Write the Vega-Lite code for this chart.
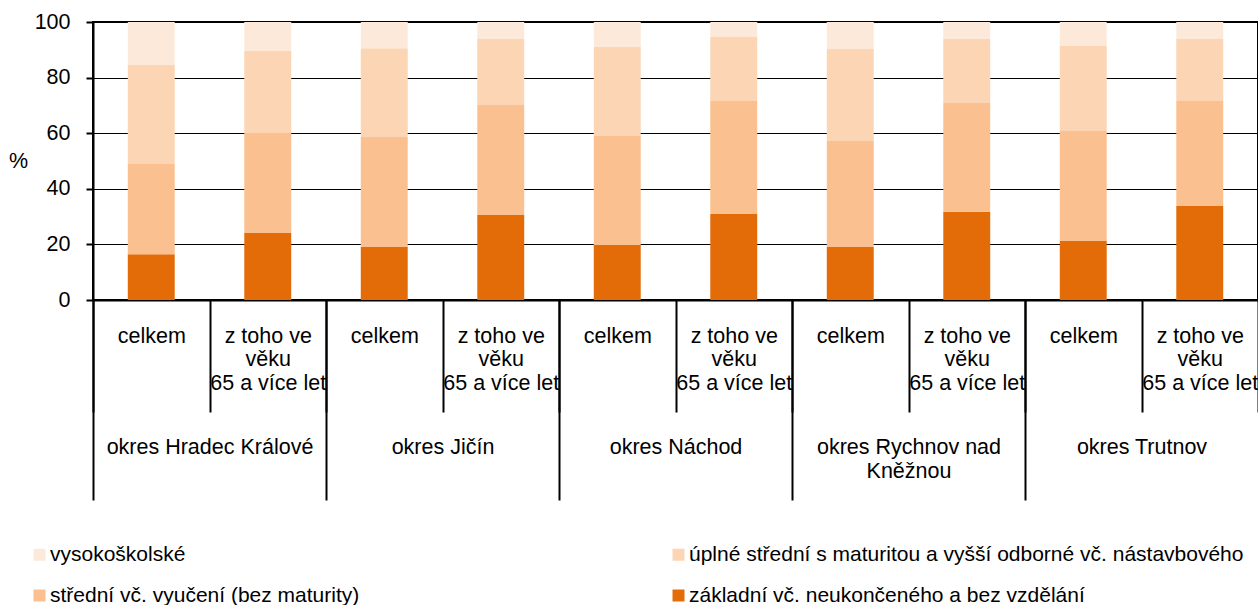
{
  "$schema": "https://vega.github.io/schema/vega-lite/v6.json",
  "width": 1165,
  "height": 278,
  "autosize": {"type": "none"},
  "padding": {"left": 93, "top": 22, "right": 0, "bottom": 305},
  "background": "#ffffff",
  "config": {
    "font": "Liberation Sans",
    "view": {"stroke": "#000000", "strokeWidth": 2}
  },
  "data": {
    "values": [
      {"okres": "okres Hradec Králové", "skupina": "celkem", "vzdelani": "základní vč. neukončeného a bez vzdělání", "podil": 16.5},
      {"okres": "okres Hradec Králové", "skupina": "celkem", "vzdelani": "střední vč. vyučení (bez maturity)", "podil": 32.4},
      {"okres": "okres Hradec Králové", "skupina": "celkem", "vzdelani": "úplné střední s maturitou a vyšší odborné vč. nástavbového", "podil": 35.6},
      {"okres": "okres Hradec Králové", "skupina": "celkem", "vzdelani": "vysokoškolské", "podil": 15.5},
      {"okres": "okres Hradec Králové", "skupina": "65+", "vzdelani": "základní vč. neukončeného a bez vzdělání", "podil": 24.1},
      {"okres": "okres Hradec Králové", "skupina": "65+", "vzdelani": "střední vč. vyučení (bez maturity)", "podil": 36.0},
      {"okres": "okres Hradec Králové", "skupina": "65+", "vzdelani": "úplné střední s maturitou a vyšší odborné vč. nástavbového", "podil": 29.5},
      {"okres": "okres Hradec Králové", "skupina": "65+", "vzdelani": "vysokoškolské", "podil": 10.4},
      {"okres": "okres Jičín", "skupina": "celkem", "vzdelani": "základní vč. neukončeného a bez vzdělání", "podil": 19.1},
      {"okres": "okres Jičín", "skupina": "celkem", "vzdelani": "střední vč. vyučení (bez maturity)", "podil": 39.5},
      {"okres": "okres Jičín", "skupina": "celkem", "vzdelani": "úplné střední s maturitou a vyšší odborné vč. nástavbového", "podil": 32.0},
      {"okres": "okres Jičín", "skupina": "celkem", "vzdelani": "vysokoškolské", "podil": 9.4},
      {"okres": "okres Jičín", "skupina": "65+", "vzdelani": "základní vč. neukončeného a bez vzdělání", "podil": 30.6},
      {"okres": "okres Jičín", "skupina": "65+", "vzdelani": "střední vč. vyučení (bez maturity)", "podil": 39.5},
      {"okres": "okres Jičín", "skupina": "65+", "vzdelani": "úplné střední s maturitou a vyšší odborné vč. nástavbového", "podil": 23.8},
      {"okres": "okres Jičín", "skupina": "65+", "vzdelani": "vysokoškolské", "podil": 6.1},
      {"okres": "okres Náchod", "skupina": "celkem", "vzdelani": "základní vč. neukončeného a bez vzdělání", "podil": 19.8},
      {"okres": "okres Náchod", "skupina": "celkem", "vzdelani": "střední vč. vyučení (bez maturity)", "podil": 39.2},
      {"okres": "okres Náchod", "skupina": "celkem", "vzdelani": "úplné střední s maturitou a vyšší odborné vč. nástavbového", "podil": 32.0},
      {"okres": "okres Náchod", "skupina": "celkem", "vzdelani": "vysokoškolské", "podil": 9.0},
      {"okres": "okres Náchod", "skupina": "65+", "vzdelani": "základní vč. neukončeného a bez vzdělání", "podil": 30.9},
      {"okres": "okres Náchod", "skupina": "65+", "vzdelani": "střední vč. vyučení (bez maturity)", "podil": 40.7},
      {"okres": "okres Náchod", "skupina": "65+", "vzdelani": "úplné střední s maturitou a vyšší odborné vč. nástavbového", "podil": 23.0},
      {"okres": "okres Náchod", "skupina": "65+", "vzdelani": "vysokoškolské", "podil": 5.4},
      {"okres": "okres Rychnov nad Kněžnou", "skupina": "celkem", "vzdelani": "základní vč. neukončeného a bez vzdělání", "podil": 19.1},
      {"okres": "okres Rychnov nad Kněžnou", "skupina": "celkem", "vzdelani": "střední vč. vyučení (bez maturity)", "podil": 38.1},
      {"okres": "okres Rychnov nad Kněžnou", "skupina": "celkem", "vzdelani": "úplné střední s maturitou a vyšší odborné vč. nástavbového", "podil": 33.1},
      {"okres": "okres Rychnov nad Kněžnou", "skupina": "celkem", "vzdelani": "vysokoškolské", "podil": 9.7},
      {"okres": "okres Rychnov nad Kněžnou", "skupina": "65+", "vzdelani": "základní vč. neukončeného a bez vzdělání", "podil": 31.7},
      {"okres": "okres Rychnov nad Kněžnou", "skupina": "65+", "vzdelani": "střední vč. vyučení (bez maturity)", "podil": 39.2},
      {"okres": "okres Rychnov nad Kněžnou", "skupina": "65+", "vzdelani": "úplné střední s maturitou a vyšší odborné vč. nástavbového", "podil": 23.0},
      {"okres": "okres Rychnov nad Kněžnou", "skupina": "65+", "vzdelani": "vysokoškolské", "podil": 6.1},
      {"okres": "okres Trutnov", "skupina": "celkem", "vzdelani": "základní vč. neukončeného a bez vzdělání", "podil": 21.2},
      {"okres": "okres Trutnov", "skupina": "celkem", "vzdelani": "střední vč. vyučení (bez maturity)", "podil": 39.6},
      {"okres": "okres Trutnov", "skupina": "celkem", "vzdelani": "úplné střední s maturitou a vyšší odborné vč. nástavbového", "podil": 30.6},
      {"okres": "okres Trutnov", "skupina": "celkem", "vzdelani": "vysokoškolské", "podil": 8.6},
      {"okres": "okres Trutnov", "skupina": "65+", "vzdelani": "základní vč. neukončeného a bez vzdělání", "podil": 33.8},
      {"okres": "okres Trutnov", "skupina": "65+", "vzdelani": "střední vč. vyučení (bez maturity)", "podil": 37.8},
      {"okres": "okres Trutnov", "skupina": "65+", "vzdelani": "úplné střední s maturitou a vyšší odborné vč. nástavbového", "podil": 22.3},
      {"okres": "okres Trutnov", "skupina": "65+", "vzdelani": "vysokoškolské", "podil": 6.1}
    ]
  },
  "transform": [
    {"calculate": "datum.okres + '|' + datum.skupina", "as": "sloupec"},
    {"calculate": "indexof(['základní vč. neukončeného a bez vzdělání', 'střední vč. vyučení (bez maturity)', 'úplné střední s maturitou a vyšší odborné vč. nástavbového', 'vysokoškolské'], datum.vzdelani)", "as": "poradi"}
  ],
  "layer": [
    {
      "mark": {"type": "bar", "width": {"band": 0.403}},
      "encoding": {
        "x": {
          "field": "sloupec", "type": "nominal", "sort": null,
          "scale": {"paddingInner": 0, "paddingOuter": 0},
          "axis": {
            "title": null, "orient": "bottom",
            "domain": true, "domainColor": "#000000", "domainWidth": 2,
            "tickBand": "extent", "tickSize": 112, "tickColor": "#000000", "tickWidth": 2,
            "labelAngle": 0, "labelAlign": "center", "labelBaseline": "top",
            "labelExpr": "isString(datum.value) && indexof(datum.value, '|') >= 0 ? (split(datum.value, '|')[1] == 'celkem' ? 'celkem' : ['z toho ve', 'věku', '65 a více let']) : ''",
            "labelFontSize": 21.5, "labelColor": "#000000", "labelPadding": -87, "labelLineHeight": 23.5,
            "labelOverlap": false, "labelLimit": 300, "grid": false
          }
        },
        "y": {
          "field": "podil", "type": "quantitative", "stack": "zero",
          "scale": {"domain": [0, 100], "nice": false},
          "axis": {
            "title": "%", "titleAngle": 0, "titleX": -75, "titleY": 139, "titleAlign": "center", "titleBaseline": "middle",
            "titleFontSize": 21.5, "titleFontWeight": "normal", "titleColor": "#000000",
            "values": [0, 20, 40, 60, 80, 100],
            "grid": true, "gridColor": "#000000", "gridWidth": 1,
            "domainColor": "#000000", "domainWidth": 2,
            "tickColor": "#000000", "tickSize": 7, "tickWidth": 2,
            "labelFontSize": 21.5, "labelColor": "#000000", "labelPadding": 16
          }
        },
        "color": {
          "field": "vzdelani", "type": "nominal",
          "scale": {
            "domain": ["vysokoškolské", "úplné střední s maturitou a vyšší odborné vč. nástavbového", "střední vč. vyučení (bez maturity)", "základní vč. neukončeného a bez vzdělání"],
            "range": ["#FDE9D9", "#FCD5B5", "#FAC090", "#E36C09"]
          },
          "legend": {
            "title": null, "orient": "none", "legendX": -64, "legendY": 522,
            "direction": "horizontal", "columns": 2, "columnPadding": 308, "rowPadding": 19,
            "labelFontSize": 21, "labelColor": "#000000", "labelLimit": 800, "labelOffset": 0,
            "symbolType": "square", "symbolSize": 144, "symbolStrokeWidth": 0
          }
        },
        "order": {"field": "poradi", "type": "quantitative"}
      }
    },
    {
      "mark": {"type": "point", "opacity": 0},
      "encoding": {
        "x": {
          "field": "sloupec", "type": "nominal", "sort": null,
          "axis": {
            "title": null, "orient": "bottom", "domain": false, "grid": false,
            "values": ["okres Hradec Králové|celkem", "okres Jičín|celkem", "okres Náchod|celkem", "okres Rychnov nad Kněžnou|celkem", "okres Trutnov|celkem"],
            "tickOffset": -58.25, "tickSize": 200, "tickColor": "#000000", "tickWidth": 2,
            "labelAngle": 0, "labelAlign": "center", "labelBaseline": "top", "labelOffset": 116.5,
            "labelExpr": "split(datum.value, '|')[0] == 'okres Rychnov nad Kněžnou' ? ['okres Rychnov nad', 'Kněžnou'] : split(datum.value, '|')[0]",
            "labelFontSize": 21.5, "labelColor": "#000000", "labelPadding": -64, "labelLineHeight": 24,
            "labelOverlap": false, "labelLimit": 300
          }
        }
      }
    }
  ],
  "resolve": {"axis": {"x": "independent"}}
}
